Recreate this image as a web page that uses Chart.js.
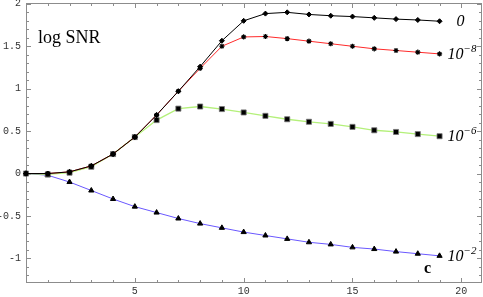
<!DOCTYPE html>
<html>
<head>
<meta charset="utf-8">
<script src="https://cdn.jsdelivr.net/npm/chart.js@4"></script>
<style>
    body { margin: 0; background: #fff; }
    #wrap { width: 483px; height: 297px; }
</style>
</head>
<body>
<div id="wrap"><canvas id="snr-chart"></canvas></div>
<script>
const cValues = [0, 1, 2, 3, 4, 5, 6, 7, 8, 9, 10, 11, 12, 13, 14, 15, 16, 17, 18, 19];
const snrZero = [0, 0, 0.02, 0.09, 0.23, 0.43, 0.69, 0.97, 1.26, 1.565, 1.8, 1.885, 1.9, 1.875, 1.86, 1.85, 1.835, 1.82, 1.81, 1.795];
const snrE8 = [0, 0, 0.02, 0.09, 0.23, 0.43, 0.69, 0.97, 1.24, 1.5, 1.61, 1.615, 1.59, 1.56, 1.53, 1.5, 1.47, 1.45, 1.43, 1.41];
const snrE6 = [0, -0.01, 0.01, 0.08, 0.23, 0.43, 0.63, 0.765, 0.79, 0.76, 0.72, 0.68, 0.64, 0.61, 0.585, 0.55, 0.51, 0.49, 0.465, 0.44];
const snrE2 = [0, -0.02, -0.1, -0.2, -0.3, -0.39, -0.46, -0.53, -0.59, -0.64, -0.69, -0.73, -0.77, -0.81, -0.835, -0.87, -0.89, -0.92, -0.945, -0.97];

// tick marks (every one gets a frame tick, only the labelled ones get text)
const xTickValues = [0, 1, 2, 3, 4, 5, 6, 7, 8, 9, 10, 11, 12, 13, 14, 15, 16, 17, 18, 19, 20];
const xTickLabels = { 5: '5', 10: '10', 15: '15', 20: '20' };
const yTickValues = [-1.2, -1.1, -1, -0.9, -0.8, -0.7, -0.6, -0.5, -0.4, -0.3, -0.2, -0.1, 0,
    0.1, 0.2, 0.3, 0.4, 0.5, 0.6, 0.7, 0.8, 0.9, 1, 1.1, 1.2, 1.3, 1.4, 1.5, 1.6, 1.7, 1.8, 1.9, 2];
const yTickLabels = { '-1': '-1', '-0.5': '-0.5', '0': '0', '0.5': '0.5', '1': '1', '1.5': '1.5', '2': '2' };

// curve labels: base text and exponent
const curveLabels = [['0', ''], ['10', '\u22128'], ['10', '\u22126'], ['10', '\u22122']];
const yLabel = 'log SNR';
const xLabel = 'c';

function toPoints(values) {
    return cValues.map((c, i) => ({ x: c, y: values[i] }));
}

const frameColor = '#8c8c8c';

// Mathematica-style frame with inward ticks on all four sides
const framePlugin = {
    id: 'frame',
    beforeDatasetsDraw(chart) {
        const { ctx, chartArea: a, scales } = chart;
        ctx.save();
        ctx.strokeStyle = frameColor;
        ctx.lineWidth = 1;
        ctx.strokeRect(a.left + 0.5, a.top + 0.5, a.right - a.left - 1, a.bottom - a.top - 1);
        ctx.beginPath();
        xTickValues.forEach((v) => {
            const px = Math.round(scales.x.getPixelForValue(v)) + 0.5;
            const len = xTickLabels[v] ? 5 : 3;
            ctx.moveTo(px, a.bottom);
            ctx.lineTo(px, a.bottom - len);
            ctx.moveTo(px, a.top);
            ctx.lineTo(px, a.top + len);
        });
        yTickValues.forEach((v) => {
            const py = Math.round(scales.y.getPixelForValue(v)) + 0.5;
            const len = yTickLabels[String(v)] ? 5 : 3;
            ctx.moveTo(a.left, py);
            ctx.lineTo(a.left + len, py);
            ctx.moveTo(a.right, py);
            ctx.lineTo(a.right - len, py);
        });
        ctx.stroke();
        ctx.restore();
    },
    afterDraw(chart) {
        const { ctx, scales } = chart;
        ctx.save();
        ctx.fillStyle = '#000';
        ctx.font = '18px "Liberation Serif"';
        ctx.fillText(yLabel, 38, 43);
        ctx.font = 'bold 16px "Liberation Serif"';
        ctx.fillText(xLabel, 424, 273);

        chart.data.datasets.forEach((ds, i) => {
            const last = ds.data[ds.data.length - 1];
            const px = scales.x.getPixelForValue(last.x);
            const py = scales.y.getPixelForValue(last.y);
            const [base, exp] = curveLabels[i];
            ctx.font = 'italic 16px "Liberation Serif"';
            const x0 = exp ? px + 8 : px + 17;
            const y0 = py + 5;
            ctx.fillText(base, x0, y0);
            if (exp) {
                const w = ctx.measureText(base).width;
                ctx.font = 'italic 11px "Liberation Serif"';
                ctx.fillText(exp, x0 + w, y0 - 7);
            }
        });
        ctx.restore();
    },
};

const tickFont = { family: '"Liberation Mono"', size: 10 };

new Chart(document.getElementById('snr-chart').getContext('2d'), {
    type: 'line',
    data: {
        datasets: [
            {
                data: toPoints(snrZero),
                borderColor: '#000',
                borderWidth: 1,
                pointStyle: 'rectRot',
                pointRadius: 2.5,
                pointBackgroundColor: '#000',
                pointBorderColor: '#000',
                clip: false,
            },
            {
                data: toPoints(snrE8),
                borderColor: '#ff2a2a',
                borderWidth: 1,
                pointStyle: 'star',
                pointRadius: 2.6,
                pointBorderWidth: 1.2,
                pointBackgroundColor: '#000',
                pointBorderColor: '#000',
                clip: false,
            },
            {
                data: toPoints(snrE6),
                borderColor: '#b4f07a',
                borderWidth: 1.3,
                pointStyle: 'rect',
                pointRadius: 3.6,
                pointBorderWidth: 0.8,
                pointBackgroundColor: '#000',
                pointBorderColor: '#777',
                clip: false,
            },
            {
                data: toPoints(snrE2),
                borderColor: '#6a58ff',
                borderWidth: 1,
                pointStyle: 'triangle',
                pointRadius: 3,
                pointBackgroundColor: '#000',
                pointBorderColor: '#000',
                clip: false,
            },
        ],
    },
    options: {
        responsive: true,
        maintainAspectRatio: false,
        animation: false,
        layout: { autoPadding: false, padding: { top: 3, right: 1, left: 0, bottom: 0 } },
        scales: {
            x: {
                type: 'linear',
                min: 0,
                max: 20.95,
                grid: { display: false, drawTicks: false },
                border: { display: false },
                afterBuildTicks: (s) => { s.ticks = xTickValues.map((v) => ({ value: v })); },
                afterFit: (s) => {
                    s.height = 14;
                    s.paddingLeft = 0;
                    s.paddingRight = 0;
                },
                ticks: {
                    autoSkip: false,
                    maxRotation: 0,
                    padding: 2,
                    color: '#333',
                    font: tickFont,
                    callback: (v) => xTickLabels[v] || '',
                },
            },
            y: {
                min: -1.29,
                max: 2.01,
                grid: { display: false, drawTicks: false },
                border: { display: false },
                afterBuildTicks: (s) => { s.ticks = yTickValues.map((v) => ({ value: v })); },
                afterFit: (s) => {
                    s.width = 26;
                    s.paddingTop = 0;
                    s.paddingBottom = 0;
                },
                ticks: {
                    autoSkip: false,
                    padding: 5,
                    color: '#333',
                    font: tickFont,
                    callback: (v) => yTickLabels[String(v)] || '',
                },
            },
        },
        plugins: {
            legend: { display: false },
            tooltip: { enabled: false },
        },
    },
    plugins: [framePlugin],
});
</script>
</body>
</html>
